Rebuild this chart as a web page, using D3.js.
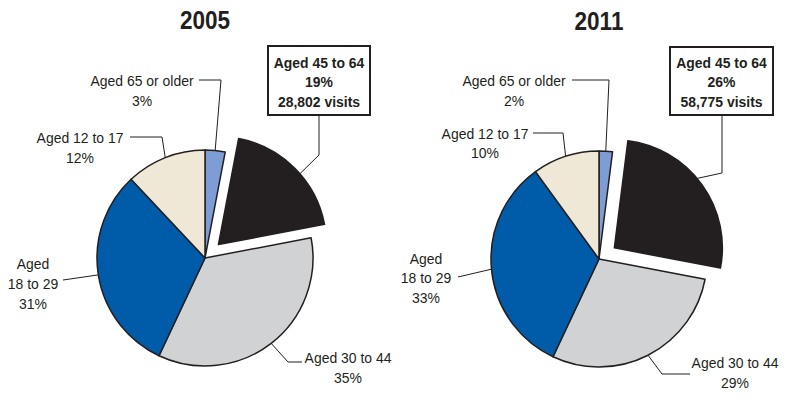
<!DOCTYPE html>
<html>
<head>
<meta charset="utf-8">
<script src="https://cdn.jsdelivr.net/npm/d3@7"></script>
<style>
  html, body { margin: 0; padding: 0; background: #fff; }
  svg { display: block; }
  text { font-family: "Liberation Sans", Arial, sans-serif; fill: #231f20; }
</style>
</head>
<body>
<svg id="chart" width="800" height="400"></svg>
<script>
// ---- data ----
const categories = ["Aged 65 or older", "Aged 45 to 64", "Aged 30 to 44", "Aged 18 to 29", "Aged 12 to 17"];
const years = ["2005", "2011"];
const values2005 = [3, 19, 35, 31, 12];
const values2011 = [2, 26, 29, 33, 10];
const visits45to64 = ["28,802 visits", "58,775 visits"];
const highlightIndex = 1;

// ---- style / layout ----
const colors = ["#7d9dd4", "#231f20", "#d1d2d4", "#005ca9", "#efe8d7"];
const R = 108;
const explode = 19;
const squeeze = 0.9;   // condensed look

const pies = [
  { year: years[0], values: values2005, visits: visits45to64[0], cx: 205, cy: 258, titleY: 29,
    labels: [
      { x: 142, ys: [86, 106], lines: ["Aged 65 or older", "{p}"], leader: [[199, 80], [221, 80]] },
      { box: [268, 46, 102, 69], x: 319, ys: [68, 87, 107], leader: [[319, 115], [319, 155]], angOff: 4 },
      { x: 348, ys: [363, 383], lines: ["Aged 30 to 44", "{p}"], leader: [[302, 362], [288, 362]] },
      { x: 33, ys: [269, 289, 309], lines: ["Aged", "18 to 29", "{p}"], leader: [[63, 280]] },
      { x: 80, ys: [143, 163], lines: ["Aged 12 to 17", "{p}"], leader: [[130, 137], [162, 137]] }
    ] },
  { year: years[1], values: values2011, visits: visits45to64[1], cx: 599, cy: 259, titleY: 30,
    labels: [
      { x: 514, ys: [86, 106], lines: ["Aged 65 or older", "{p}"], leader: [[572, 80], [609, 80]] },
      { box: [670, 47, 103, 68], x: 721.5, ys: [68, 87, 107], leader: [[722, 115], [722, 173]], angOff: -4 },
      { x: 735, ys: [368, 388], lines: ["Aged 30 to 44", "{p}"], leader: [[690, 374], [662, 374]] },
      { x: 426, ys: [264, 283, 303], lines: ["Aged", "18 to 29", "{p}"], leader: [[458, 277]] },
      { x: 485, ys: [139, 158], lines: ["Aged 12 to 17", "{p}"], leader: [[533, 133], [563, 133]] }
    ] }
];

const svg = d3.select("#chart");
const arc = d3.arc().innerRadius(0).outerRadius(R);
const pieGen = d3.pie().sort(null).value(d => d).startAngle(0).endAngle(2 * Math.PI);

function addText(x, y, s, size, weight) {
  svg.append("text")
    .attr("transform", `translate(${x},${y}) scale(${squeeze},1)`)
    .attr("text-anchor", "middle")
    .style("font-size", size + "px")
    .style("font-weight", weight)
    .text(s);
}

pies.forEach(p => {
  const arcs = pieGen(p.values);
  const g = svg.append("g").attr("transform", `translate(${p.cx},${p.cy})`);

  addText(p.cx, p.titleY, p.year, 25, "bold");

  const offsetOf = (d, i) => {
    if (i !== highlightIndex) return [0, 0];
    const m = (d.startAngle + d.endAngle) / 2;
    return [explode * Math.sin(m), -explode * Math.cos(m)];
  };

  g.selectAll("path.slice")
    .data(arcs)
    .join("path")
    .attr("class", "slice")
    .attr("d", arc)
    .attr("transform", (d, i) => { const o = offsetOf(d, i); return `translate(${o[0]},${o[1]})`; })
    .attr("fill", (d, i) => colors[i])
    .attr("stroke", "#231f20")
    .attr("stroke-width", 1.5)
    .attr("stroke-linejoin", "round");

  p.labels.forEach((lab, i) => {
    const d = arcs[i];
    const o = offsetOf(d, i);
    const m = (d.startAngle + d.endAngle) / 2 + ((lab.angOff || 0) * Math.PI / 180);
    const edge = [p.cx + o[0] + R * Math.sin(m), p.cy + o[1] - R * Math.cos(m)];
    svg.append("path")
      .attr("d", d3.line()(lab.leader.concat([edge])))
      .attr("fill", "none")
      .attr("stroke", "#231f20")
      .attr("stroke-width", 1);

    const pct = p.values[i] + "%";
    let lines, weight = "normal";
    if (lab.box) {
      svg.append("rect")
        .attr("x", lab.box[0]).attr("y", lab.box[1])
        .attr("width", lab.box[2]).attr("height", lab.box[3])
        .attr("fill", "#fff").attr("stroke", "#231f20").attr("stroke-width", 2);
      lines = [categories[i], pct, p.visits];
      weight = "bold";
    } else {
      lines = lab.lines.map(s => s === "{p}" ? pct : s);
    }
    lines.forEach((s, k) => addText(lab.x, lab.ys[k], s, 15.5, weight));
  });
});
</script>
</body>
</html>
